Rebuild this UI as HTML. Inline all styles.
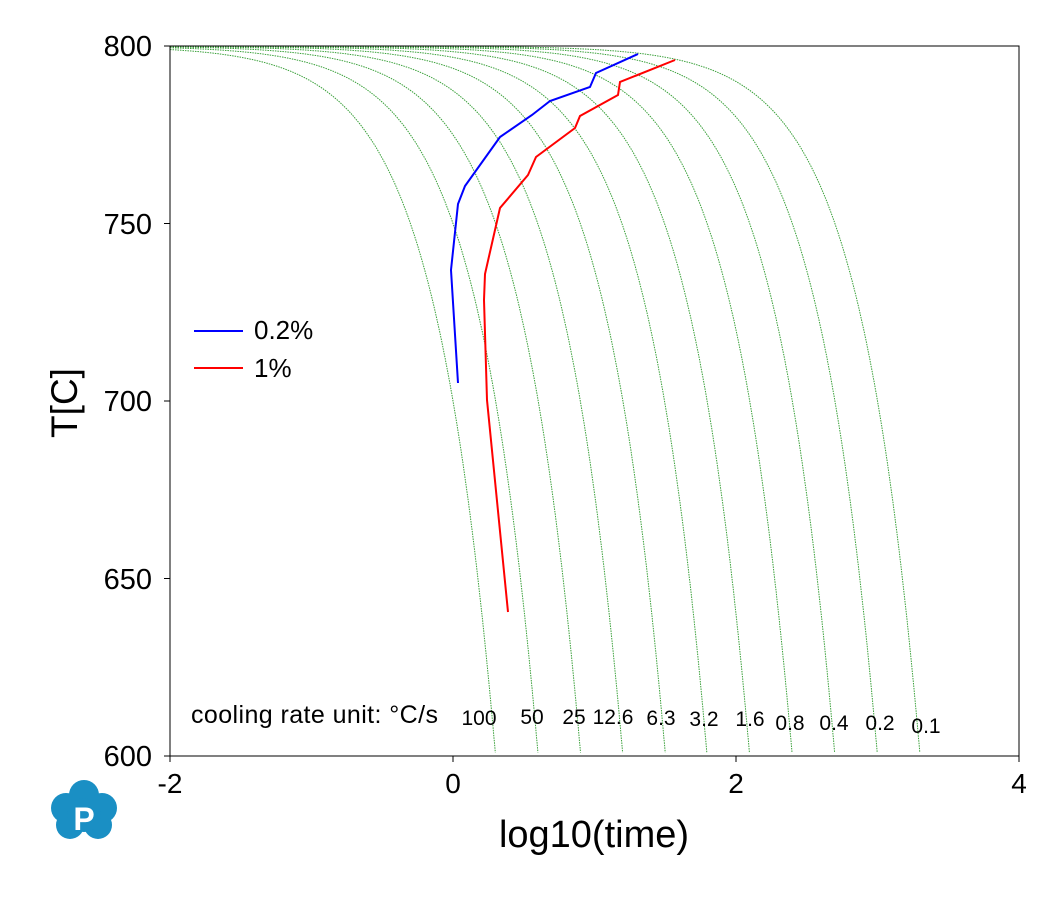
<!DOCTYPE html>
<html><head><meta charset="utf-8"><style>
body{margin:0;background:#fff}
svg text{font-family:"Liberation Sans",sans-serif}
</style></head><body>
<svg id="s" width="1063" height="907" xmlns="http://www.w3.org/2000/svg">
<rect width="1063" height="907" fill="#fff"/>
<g id="green"></g>
<rect x="170" y="46" width="849" height="710" fill="none" stroke="#000" stroke-width="1"/>
<g stroke="#000">
<line x1="170" y1="756" x2="170" y2="762"/><line x1="453" y1="756" x2="453" y2="762"/><line x1="736" y1="756" x2="736" y2="762"/><line x1="1019" y1="756" x2="1019" y2="762"/>
<line x1="164" y1="46" x2="170" y2="46"/><line x1="164" y1="223.5" x2="170" y2="223.5"/><line x1="164" y1="401" x2="170" y2="401"/><line x1="164" y1="578.5" x2="170" y2="578.5"/><line x1="164" y1="756" x2="170" y2="756"/>
</g>
<g font-size="29" text-anchor="end">
<text x="152" y="56">800</text><text x="152" y="234">750</text><text x="152" y="411">700</text><text x="152" y="589">650</text><text x="152" y="766">600</text>
</g>
<g font-size="28" text-anchor="middle">
<text x="170" y="793">-2</text><text x="453" y="793">0</text><text x="736" y="793">2</text><text x="1019" y="793">4</text>
</g>
<text x="594" y="847" font-size="38" text-anchor="middle">log10(time)</text>
<text transform="translate(77,403) rotate(-90)" font-size="37" text-anchor="middle">T[C]</text>
<polyline fill="none" stroke="#0000ff" stroke-width="2" points="638,54 596,73 590,87 550,101 532,115 500,137 465,186 458,204 451,270 458,383"/>
<polyline fill="none" stroke="#ff0000" stroke-width="2" points="675,60 620,82 618,95 580,116 575,128 536,157 528,175 500,208 485,274 484,300 487,400 508,612"/>
<line x1="194" y1="331" x2="243" y2="331" stroke="#0000ff" stroke-width="2"/>
<line x1="194" y1="368" x2="243" y2="368" stroke="#ff0000" stroke-width="2"/>
<text x="254" y="339" font-size="26">0.2%</text>
<text x="254" y="377" font-size="26">1%</text>
<text x="191" y="723" font-size="25" textLength="247">cooling rate unit: °C/s</text>
<g font-size="21" text-anchor="middle">
<text x="479" y="725">100</text><text x="532" y="724">50</text><text x="574" y="724">25</text><text x="613" y="724">12.6</text><text x="661" y="725">6.3</text><text x="704" y="726">3.2</text><text x="750" y="726">1.6</text><text x="790" y="730">0.8</text><text x="834" y="730">0.4</text><text x="880" y="730">0.2</text><text x="926" y="733">0.1</text>
</g>
<g fill="#1a8fc4">
<circle cx="84" cy="795" r="15"/><circle cx="66" cy="808" r="15"/><circle cx="102" cy="808" r="15"/><circle cx="70" cy="825" r="14"/><circle cx="98" cy="825" r="14"/><circle cx="84" cy="815" r="17"/>
</g>
<text x="84" y="830" font-size="32" font-weight="bold" fill="#fff" text-anchor="middle" font-family="Liberation Serif,serif">P</text>
</svg>
<script>
var rates=[100,50,25,12.6,6.3,3.2,1.6,0.8,0.4,0.2,0.1],g=document.getElementById('green'),h='';
rates.forEach(function(r){var p=[];for(var T=799.99;T>=600;T-=(T>790?0.1:1)){var x=170+(Math.log10((800-T)/r)+2)*141.5;if(x<170)continue;var y=46+(800-T)*3.55;p.push(x.toFixed(1)+','+y.toFixed(1));}
var y0=46+(800-(800-r*0.01))*3.55;p.unshift('170,'+y0.toFixed(1));
h+='<polyline fill="none" stroke="#3aa03a" stroke-width="1" stroke-dasharray="1.5,1" points="'+p.join(' ')+'"/>';});
g.innerHTML=h;
</script>
</body></html>
